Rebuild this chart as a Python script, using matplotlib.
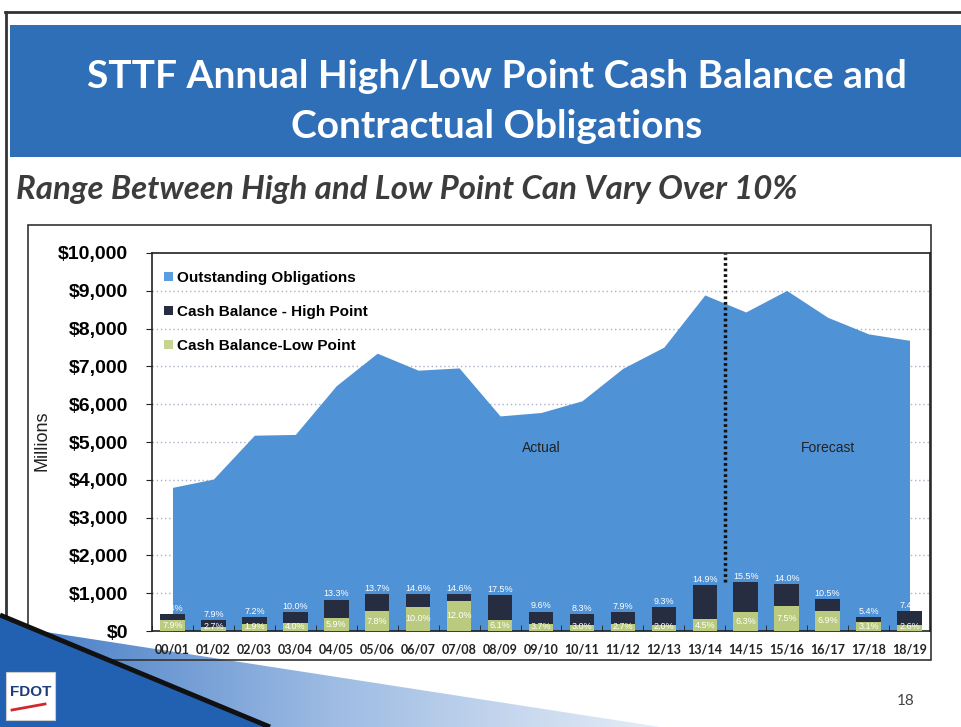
import matplotlib
matplotlib.use('Agg')
import matplotlib.pyplot as plt
import numpy as np
from matplotlib.patches import Rectangle, Polygon, Patch
from matplotlib.ticker import FuncFormatter, FixedLocator

## data (millions of dollars)
years = ['00/01', '01/02', '02/03', '03/04', '04/05', '05/06', '06/07', '07/08', '08/09', '09/10',
         '10/11', '11/12', '12/13', '13/14', '14/15', '15/16', '16/17', '17/18', '18/19']
obligations = [3800, 4020, 5180, 5200, 6490, 7350, 6900, 6960, 5690, 5780,
               6090, 6950, 7510, 8890, 8440, 9010, 8300, 7860, 7690]
cash_high = [450, 290, 370, 500, 830, 975, 975, 975, 950, 515,
             445, 490, 640, 1215, 1295, 1240, 850, 380, 530]
cash_low = [290, 100, 190, 220, 350, 520, 640, 800, 285, 180,
            160, 180, 160, 310, 515, 665, 530, 225, 160]
high_pct = ['8.4%', '7.9%', '7.2%', '10.0%', '13.3%', '13.7%', '14.6%', '14.6%', '17.5%', '9.6%',
            '8.3%', '7.9%', '9.3%', '14.9%', '15.5%', '14.0%', '10.5%', '5.4%', '7.4%']
low_pct = ['7.9%', '2.7%', '1.9%', '4.0%', '5.9%', '7.8%', '10.0%', '12.0%', '6.1%', '3.7%',
           '3.0%', '2.7%', '2.0%', '4.5%', '6.3%', '7.5%', '6.9%', '3.1%', '2.6%']

## colours
c_area = '#5092d6'
c_high = '#262d40'
c_low = '#bacb80'

W, H = 962, 727
fig = plt.figure(figsize=(W / 100.0, H / 100.0), dpi=100)
fig.patch.set_facecolor('white')

def fx(px):
    return px / float(W)

def fy(py):
    return 1 - py / float(H)

## background layer in pixel coords (y down)
bg = fig.add_axes([0, 0, 1, 1], zorder=0)
bg.set_xlim(0, W)
bg.set_ylim(H, 0)
bg.axis('off')

bg.plot([5, 962], [12, 12], color='#333333', lw=2)
bg.plot([6, 6], [12, 727], color='#333333', lw=2)
bg.add_patch(Rectangle((10, 25), 952, 132, facecolor='#2f6fb7', edgecolor='none'))
bg.text(497, 77, 'STTF Annual High/Low Point Cash Balance and', color='white',
        fontsize=28, fontfamily='Lato', fontweight='bold', ha='center', va='center')
bg.text(497, 127, 'Contractual Obligations', color='white',
        fontsize=28, fontfamily='Lato', fontweight='bold', ha='center', va='center')
bg.text(16, 190, 'Range Between High and Low Point Can Vary Over 10%', color='#3c3c3c',
        fontsize=23.8, fontfamily='Lato', fontweight='bold', style='italic', ha='left', va='center')

## chart frame
bg.add_patch(Rectangle((28, 225), 903, 435, facecolor='none', edgecolor='#333333', lw=1.2))
bg.text(42, 441, 'Millions', rotation=90, fontsize=13, fontfamily='Liberation Sans',
        ha='center', va='center', color='#222222')

## light swoosh band (gradient), under the chart frame
grad = np.linspace(0, 1, 256).reshape(1, -1)
band = Polygon([(20, 628), (660, 727), (260, 727)], closed=True, facecolor='none', edgecolor='none')
bg.add_patch(band)
im = bg.imshow(grad, extent=(0, 660, 727, 600), cmap=matplotlib.colors.LinearSegmentedColormap.from_list(
    'sw', ['#3f78c4', '#9dbbe3', '#e6edf7']), aspect='auto', zorder=0.5)
im.set_clip_path(band)
bg.text(906, 701, '18', color='#444444', fontsize=11, fontfamily='Lato', ha='center', va='center')

## foreground layer: dark swoosh and logo sit on top of the chart corner
fg = fig.add_axes([0, 0, 1, 1], zorder=5)
fg.set_xlim(0, W)
fg.set_ylim(H, 0)
fg.axis('off')
fg.patch.set_alpha(0)
fg.add_patch(Polygon([(0, 615), (270, 727), (0, 727)], closed=True, facecolor='#2260b2', edgecolor='none'))
fg.plot([0, 270], [615, 727], color='#111111', lw=3.5, solid_capstyle='butt')
fg.add_patch(Rectangle((6, 672), 49, 48, facecolor='white', edgecolor='#cccccc', lw=0.8))
fg.text(31, 692, 'FDOT', color='#1c3c7e', fontsize=11, fontfamily='Liberation Sans',
        fontweight='bold', ha='center', va='center')
fg.plot([12, 45], [710, 704], color='#d0282e', lw=2)

## main chart axes
ax = fig.add_axes([fx(152), fy(631), fx(930) - fx(152), fy(253) - fy(631)], zorder=1)
x = np.arange(len(years))

ax.fill_between(x, 0, obligations, color=c_area, lw=0, zorder=1)
ax.set_xlim(-0.5, len(years) - 0.5)
ax.set_ylim(0, 10000)

for yv in range(1000, 10000, 1000):
    ax.axhline(yv, color='#aab2cc', lw=1, ls=(0, (1, 2)), zorder=0.5)

ax.axvline(13.5, ymin=0.13, ymax=1, color='#111111', lw=2.5, ls=(0, (0.8, 0.8)), zorder=2)

ax.bar(x, cash_low, width=0.6, color=c_low, zorder=3)
ax.bar(x, np.array(cash_high) - np.array(cash_low), bottom=cash_low, width=0.6,
       color=c_high, zorder=3)

for i in range(len(years)):
    ax.text(x[i], cash_high[i] + 30, high_pct[i], color='white', fontsize=6.5,
            fontfamily='Liberation Sans', ha='center', va='bottom', zorder=4)
    ax.text(x[i], max(cash_low[i] / 2.0, 110), low_pct[i], color='white', fontsize=6.5,
            fontfamily='Liberation Sans', ha='center', va='center', zorder=4)

ax.text(9, 4850, 'Actual', fontsize=10, fontfamily='Liberation Sans', color='#222222',
        ha='center', va='center', zorder=4)
ax.text(16, 4850, 'Forecast', fontsize=10, fontfamily='Liberation Sans', color='#222222',
        ha='center', va='center', zorder=4)

## axes styling
for s in ax.spines.values():
    s.set_color('#222222')
    s.set_linewidth(1.2)
ax.set_facecolor('white')

ax.yaxis.set_major_locator(FixedLocator(range(0, 10001, 1000)))
ax.yaxis.set_major_formatter(FuncFormatter(lambda v, p: '${:,.0f}'.format(v)))
ax.tick_params(axis='y', direction='out', length=4, pad=13, labelsize=14, color='#222222')
for lab in ax.get_yticklabels():
    lab.set_fontfamily('Liberation Sans')
    lab.set_fontweight('bold')

ax.set_xticks(x)
ax.set_xticklabels(years)
ax.tick_params(axis='x', which='major', length=0, pad=9, labelsize=9)
ax.set_xticks(np.arange(-0.5, len(years), 1.0), minor=True)
ax.tick_params(axis='x', which='minor', direction='in', length=4, color='#222222')
for lab in ax.get_xticklabels():
    lab.set_fontfamily('Lato')
    lab.set_fontweight('bold')
    lab.set_color('#222222')

handles = [Patch(facecolor='#5b9ee0', label='Outstanding Obligations'),
           Patch(facecolor=c_high, label='Cash Balance - High Point'),
           Patch(facecolor='#c5d58f', label='Cash Balance-Low Point')]
ax.legend(handles=handles, loc='upper left', bbox_to_anchor=(0.0, 0.985), frameon=False,
          prop={'family': 'Liberation Sans', 'weight': 'bold', 'size': 11},
          handlelength=0.55, handleheight=0.55, handletextpad=0.3, labelspacing=1.3,
          borderaxespad=0.4)

fig.savefig('out.png', dpi=100)
